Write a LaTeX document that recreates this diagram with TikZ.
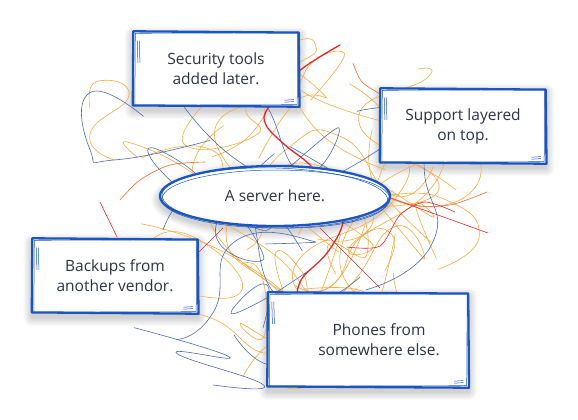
\documentclass[tikz,border=0pt]{standalone}
\usepackage{fontspec}
\setmainfont{Open Sans}
\usetikzlibrary{shapes.geometric, calc, backgrounds}
\definecolor{sketchblue}{HTML}{1A56C2}
\definecolor{inkgray}{HTML}{2B3445}
\definecolor{wireorange}{HTML}{F5AC40}
\definecolor{wireblue}{HTML}{4A6DB3}
\definecolor{wirered}{HTML}{E8262B}
\definecolor{wireember}{HTML}{F06A2E}

\tikzset{
  notebox/.style={fill=white, text=inkgray, align=center, font=\fontsize{15.5}{20}\selectfont,
    minimum width=165pt, minimum height=74pt, inner sep=0pt},
  sketchline/.style={draw=sketchblue, line width=2.3pt, line join=round, line cap=round},
  sketchthin/.style={draw=sketchblue, line width=0.5pt, line cap=round},
  wire/.style={line width=0.6pt, line cap=round},
  softshade/.style={fill=black, opacity=0.018}
}

% hand drawn frame round a box node
\newcommand\sketchframe[1]{%
  \begin{scope}[on background layer]
    \foreach \s in {1,...,9} {
      \fill[softshade, rounded corners=\s pt] ($(#1.north west)+(-\s,-\s+4)$) rectangle ($(#1.south east)+(\s,\s+4)$);
    }
  \end{scope}
  \draw[sketchline] ($(#1.north west)+(0,-0.5)$) -- ($(#1.north east)+(0,0.8)$)
    -- ($(#1.south east)+(0.8,0.5)$) -- ($(#1.south west)+(-0.5,-0.8)$) -- cycle;
  \draw[sketchthin] ($(#1.north west)+(2,1.5)$) -- ($(#1.north east)+(-1,1)$)
    -- ($(#1.south east)+(-1.5,-1.5)$) -- ($(#1.south west)+(1.5,-1)$) -- cycle;
  \foreach \dx in {4,6} {
    \draw[sketchthin] ($(#1.north west)+(\dx,9)$) -- ++(0.6,22);
  }
  \foreach \dy in {4,6} {
    \draw[sketchthin] ($(#1.south east)+(-14,-\dy)$) -- ++(9,-0.6);
  }
}

% next point of a wire, pulled back towards the middle
\newcommand\wirestep[4]{%
  \pgfmathsetmacro#3{min(max(#1+0.15*(280-#1)+80*rand,90),490)}%
  \pgfmathsetmacro#4{min(max(#2+0.15*(215-#2)+70*rand,45),385)}%
}
% one loose wandering wire
\newcommand\wanderwire[2]{%
  \pgfmathsetmacro\ax{280+180*rand}\pgfmathsetmacro\ay{215+145*rand}
  \wirestep{\ax}{\ay}{\bx}{\by}
  \wirestep{\bx}{\by}{\cx}{\cy}
  \wirestep{\cx}{\cy}{\dx}{\dy}
  \wirestep{\dx}{\dy}{\ex}{\ey}
  \draw[wire, #1] plot[smooth, tension=1] coordinates
    {(\ax,\ay) (\bx,\by) (\cx,\cy) (\dx,\dy) (\ex,\ey)};
}

\begin{document}
\begin{tikzpicture}[x=1pt, y=-1pt]
  \useasboundingbox (0,0) rectangle (578,420);
  \begin{scope}[on background layer]
    \fill[white] (0,0) rectangle (578,420);
  \end{scope}

  % tangle of wires behind everything
  \pgfmathsetseed{2024}
  \foreach \k in {1,...,32} { \wanderwire{wireorange}{1} }
  \foreach \k in {1,...,12} { \wanderwire{wireblue}{1} }

  % red threads
  \draw[wirered, line width=1.3pt, line cap=round] plot[smooth, tension=0.6] coordinates {
    (340,45) (298,72) (268,108) (266,125) (285,145) (310,165) (335,195)
    (343,222) (327,253) (303,277) (297,293)};
  \draw[wire, wirered] (100,202) -- (117,237);
  \draw[wire, wirered] (385,196) -- (488,233);
  \draw[wire, wirered] (320,228) -- (380,288);
  \draw[wire, wirered] (198,253) -- (223,228);
  \draw[wire, wireember] plot[smooth] coordinates {(353,63) (362,82) (382,95)};
  \draw[wire, wireember] plot[smooth] coordinates {(370,190) (413,205) (450,205) (487,192)};
  \draw[wire, wirered] plot[smooth] coordinates {(347,247) (380,246) (400,215) (425,202) (455,212)};
  \draw[wire, wireember] plot[smooth] coordinates {(120,200) (140,180) (170,165) (205,162)};

  % boxes
  \node[notebox] (security) at (216,69) {Security tools\\added later.};
  \node[notebox] (support) at (463,126) {Support layered\\on top.};
  \node[notebox] (backups) at (115,276) {Backups from\\another vendor.};
  \node[notebox, minimum width=200pt, minimum height=94pt] (phones) at (368,340)
    {\hspace*{22pt}Phones from\\\hspace*{22pt}somewhere else.};
  \sketchframe{security}
  \sketchframe{support}
  \sketchframe{backups}
  \sketchframe{phones}

  % server in the middle
  \node[notebox, ellipse, minimum width=230pt, minimum height=62pt] (server) at (275,196)
    {A server here.};
  \begin{scope}[on background layer]
    \foreach \s in {1,...,9} {
      \fill[softshade] ([yshift=-4pt]server.center) ellipse [x radius={115pt+\s pt}, y radius={31pt+\s pt}];
    }
  \end{scope}
  \draw[sketchline] (server.center) ellipse [x radius=115pt, y radius=30pt];
  \draw[sketchthin, rotate around={-1.5:(server.center)}] ([yshift=-2pt]server.center)
    ellipse [x radius=113pt, y radius=30pt];
  \draw[sketchthin] ([xshift=1pt, yshift=-3pt]server.center) ellipse [x radius=114pt, y radius=29pt];
\end{tikzpicture}
\end{document}
